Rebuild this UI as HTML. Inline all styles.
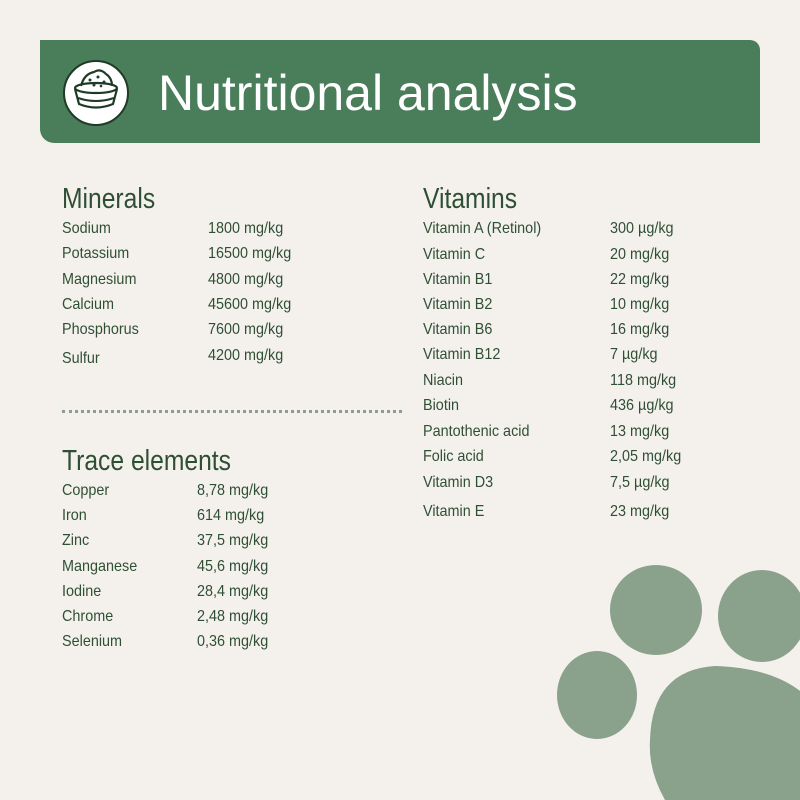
<!DOCTYPE html>
<html><head><meta charset="utf-8"><style>
body{margin:0;width:800px;height:800px;background:#f4f1ec;position:relative;overflow:hidden;font-family:"Liberation Sans Narrow","Liberation Sans",sans-serif;color:#2f4f35}
.h{position:absolute;left:40px;top:40px;width:720px;height:103px;background:#4a7d5a;border-radius:0 10px 0 14px}
.t{position:absolute;left:158px;top:63px;font-family:"Liberation Sans",sans-serif;font-size:50px;color:#fff;line-height:60px}
.s{position:absolute;font-size:29px;line-height:34px;transform:scaleX(.85);transform-origin:left}
.r{position:absolute;font-size:16px;line-height:20px;transform:scaleX(.9);transform-origin:left;white-space:nowrap}
.dot{position:absolute;left:62px;top:410px;width:340px;border-top:3px dotted #8aa08c}
</style></head><body>
<div class="h"></div>
<svg style="position:absolute;left:0;top:0" width="800" height="800">
<circle cx="96" cy="93" r="32" fill="#fff" stroke="#1f3a25" stroke-width="2"/>
<path d="M81 86 Q84 74 94 72 Q100 68 106 74 Q112 78 112 86" fill="none" stroke="#1f3a25" stroke-width="2.2"/>
<g fill="#1f3a25"><circle cx="90" cy="80" r="1.5"/><circle cx="98" cy="77" r="1.5"/><circle cx="104" cy="82" r="1.5"/><circle cx="94" cy="85" r="1.5"/><circle cx="101" cy="86" r="1.3"/></g>
<ellipse cx="96" cy="88" rx="21" ry="5" fill="none" stroke="#1f3a25" stroke-width="2.2"/>
<path d="M75 89 L79 104 Q96 111 113 104 L117 89" fill="none" stroke="#1f3a25" stroke-width="2.2"/>
<path d="M78 98 Q96 104 114 98" fill="none" stroke="#1f3a25" stroke-width="2"/>
<g fill="#8aa18b">
<ellipse cx="656" cy="610" rx="46" ry="45"/>
<ellipse cx="762" cy="616" rx="44" ry="46"/>
<ellipse cx="597" cy="695" rx="40" ry="44"/>
<path d="M650 740 Q652 670 715 666 Q780 668 810 700 L810 800 L665 800 Q648 770 650 740Z"/>
</g>
</svg>
<div class="t">Nutritional analysis</div>
<div class="s" style="left:62px;top:182px">Minerals</div>
<div class="s" style="left:423px;top:182px">Vitamins</div>
<div class="s" style="left:62px;top:444px">Trace elements</div>
<div class="dot"></div>
<div class="r" style="left:62px;top:219px">Sodium</div><div class="r" style="left:208px;top:219px">1800 mg/kg</div>
<div class="r" style="left:62px;top:244px">Potassium</div><div class="r" style="left:208px;top:244px">16500 mg/kg</div>
<div class="r" style="left:62px;top:270px">Magnesium</div><div class="r" style="left:208px;top:270px">4800 mg/kg</div>
<div class="r" style="left:62px;top:295px">Calcium</div><div class="r" style="left:208px;top:295px">45600 mg/kg</div>
<div class="r" style="left:62px;top:320px">Phosphorus</div><div class="r" style="left:208px;top:320px">7600 mg/kg</div>
<div class="r" style="left:62px;top:349px">Sulfur</div><div class="r" style="left:208px;top:346px">4200 mg/kg</div>
<div class="r" style="left:62px;top:481px">Copper</div><div class="r" style="left:197px;top:481px">8,78 mg/kg</div>
<div class="r" style="left:62px;top:506px">Iron</div><div class="r" style="left:197px;top:506px">614 mg/kg</div>
<div class="r" style="left:62px;top:531px">Zinc</div><div class="r" style="left:197px;top:531px">37,5 mg/kg</div>
<div class="r" style="left:62px;top:557px">Manganese</div><div class="r" style="left:197px;top:557px">45,6 mg/kg</div>
<div class="r" style="left:62px;top:582px">Iodine</div><div class="r" style="left:197px;top:582px">28,4 mg/kg</div>
<div class="r" style="left:62px;top:607px">Chrome</div><div class="r" style="left:197px;top:607px">2,48 mg/kg</div>
<div class="r" style="left:62px;top:632px">Selenium</div><div class="r" style="left:197px;top:632px">0,36 mg/kg</div>
<div class="r" style="left:423px;top:219px">Vitamin A (Retinol)</div><div class="r" style="left:610px;top:219px">300 µg/kg</div>
<div class="r" style="left:423px;top:245px">Vitamin C</div><div class="r" style="left:610px;top:245px">20 mg/kg</div>
<div class="r" style="left:423px;top:270px">Vitamin B1</div><div class="r" style="left:610px;top:270px">22 mg/kg</div>
<div class="r" style="left:423px;top:295px">Vitamin B2</div><div class="r" style="left:610px;top:295px">10 mg/kg</div>
<div class="r" style="left:423px;top:320px">Vitamin B6</div><div class="r" style="left:610px;top:320px">16 mg/kg</div>
<div class="r" style="left:423px;top:345px">Vitamin B12</div><div class="r" style="left:610px;top:345px">7 µg/kg</div>
<div class="r" style="left:423px;top:371px">Niacin</div><div class="r" style="left:610px;top:371px">118 mg/kg</div>
<div class="r" style="left:423px;top:396px">Biotin</div><div class="r" style="left:610px;top:396px">436 µg/kg</div>
<div class="r" style="left:423px;top:422px">Pantothenic acid</div><div class="r" style="left:610px;top:422px">13 mg/kg</div>
<div class="r" style="left:423px;top:447px">Folic acid</div><div class="r" style="left:610px;top:447px">2,05 mg/kg</div>
<div class="r" style="left:423px;top:473px">Vitamin D3</div><div class="r" style="left:610px;top:473px">7,5 µg/kg</div>
<div class="r" style="left:423px;top:502px">Vitamin E</div><div class="r" style="left:610px;top:502px">23 mg/kg</div>
</body></html>
